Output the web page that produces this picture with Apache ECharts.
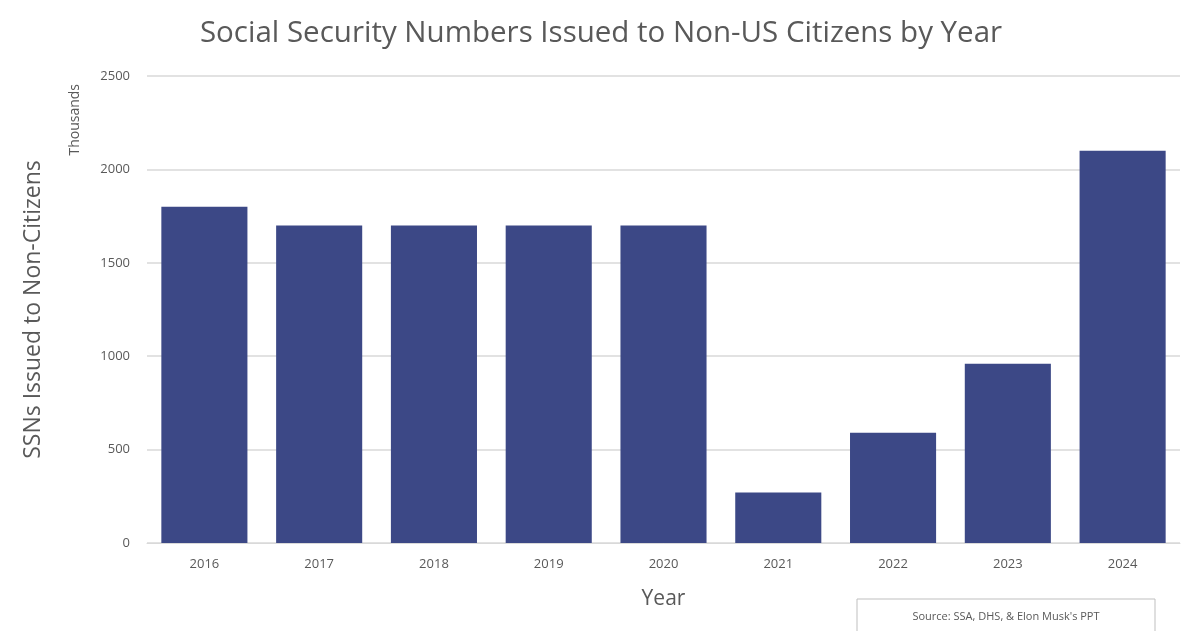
<!DOCTYPE html>
<html>
<head>
<meta charset="utf-8">
<script src="https://cdn.jsdelivr.net/npm/echarts@6/dist/echarts.min.js"></script>
<style>
  html, body { margin: 0; padding: 0; background: #fff; }
  #main { width: 1200px; height: 631px; }
</style>
</head>
<body>
<div id="main"></div>
<script>
var years = ['2016', '2017', '2018', '2019', '2020', '2021', '2022', '2023', '2024'];
var issued = [1800, 1700, 1700, 1700, 1700, 270, 590, 960, 2100]; // thousands

var grey = '#595959';
var myChart = echarts.init(document.getElementById('main'));
var option = {
    backgroundColor: '#fff',
    title: {
        text: 'Social Security Numbers Issued to Non-US Citizens by Year',
        left: 596,
        textAlign: 'center',
        top: 14,
        textStyle: { color: grey, fontSize: 29.5, fontWeight: 'normal', fontFamily: 'Open Sans' }
    },
    grid: { left: 147, right: 20, top: 76, bottom: 88 },
    xAxis: {
        type: 'category',
        data: years,
        name: 'Year',
        nameLocation: 'middle',
        nameGap: 46,
        nameTextStyle: { color: grey, fontSize: 21, fontFamily: 'Open Sans' },
        axisTick: { show: false },
        axisLine: { lineStyle: { color: '#d9d9d9' } },
        axisLabel: { color: grey, fontSize: 13, margin: 15, fontFamily: 'Open Sans' }
    },
    yAxis: {
        type: 'value',
        min: 0,
        max: 2500,
        interval: 500,
        name: 'SSNs Issued to Non-Citizens',
        nameLocation: 'middle',
        nameGap: 102,
        nameTextStyle: { color: grey, fontSize: 23, fontFamily: 'Open Sans' },
        axisLabel: { color: grey, fontSize: 13, margin: 17, fontFamily: 'Open Sans', formatter: function (v) { return String(v); } },
        splitLine: { lineStyle: { color: '#d9d9d9', width: 1.5 } }
    },
    graphic: [
        {
            type: 'text',
            left: 68,
            top: 84,
            rotation: Math.PI / 2,
            style: { text: 'Thousands', fill: grey, font: '14px "Liberation Sans Narrow", "Open Sans"' }
        },
        {
            type: 'rect',
            shape: { x: 857, y: 599, width: 298, height: 40 },
            style: { fill: '#fff', stroke: '#bfbfbf', lineWidth: 1 }
        },
        {
            type: 'text',
            x: 1006,
            y: 617,
            style: { text: "Source: SSA, DHS, & Elon Musk's PPT", fill: grey, font: '11px "Open Sans"', align: 'center', verticalAlign: 'middle' }
        }
    ],
    series: [
        {
            type: 'bar',
            data: issued,
            barWidth: '75%',
            itemStyle: { color: '#3c4886' }
        }
    ]
};
myChart.setOption(option);
</script>
</body>
</html>
